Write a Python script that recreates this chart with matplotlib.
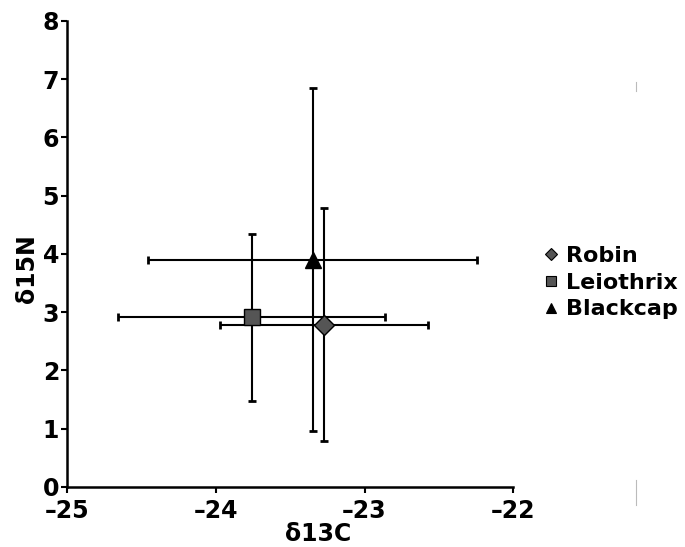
import matplotlib.pyplot as plt
from matplotlib.lines import Line2D

# 数据
species = ["Robin", "Leiothrix", "Blackcap"]
d13c = [-23.27, -23.76, -23.35]
d13c_err = [0.70, 0.90, 1.11]
d15n = [2.78, 2.91, 3.90]
d15n_err = [2.00, 1.43, 2.95]

x_ticks = [-25, -24, -23, -22]
x_ticklabels = ["–25", "–24", "–23", "–22"]
y_ticks = [0, 1, 2, 3, 4, 5, 6, 7, 8]

markers = ["D", "s", "^"]
face = ["#555555", "#555555", "#000000"]
msize = [10, 11, 12]

plt.rcParams['font.family'] = ['DejaVu Sans']
plt.rcParams['font.weight'] = 'bold'

fig = plt.figure(figsize=(6.85, 5.47), dpi=100)
ax = fig.add_axes([0.0985, 0.110, 0.6505, 0.852])

handles = []
for i, name in enumerate(species):
    ax.errorbar(d13c[i], d15n[i], xerr=d13c_err[i], yerr=d15n_err[i],
                fmt="none", ecolor="black", elinewidth=1.5, capsize=3,
                capthick=2, zorder=2, clip_on=False)
for i, name in enumerate(species):
    ax.plot(d13c[i], d15n[i], marker=markers[i], ms=msize[i], mfc=face[i],
            mec="black", mew=1.0, ls="none", zorder=3, clip_on=False)
    handles.append(Line2D([], [], marker=markers[i], ms=msize[i] * 0.6,
                          mfc=face[i], mec="black", mew=0.8, ls="none",
                          label=name))

ax.set_xlim(-25, -22)
ax.set_ylim(0, 8)
ax.set_xticks(x_ticks)
ax.set_xticklabels(x_ticklabels)
ax.set_yticks(y_ticks)
for s in ["top", "right"]:
    ax.spines[s].set_visible(False)
for s in ["left", "bottom"]:
    ax.spines[s].set_linewidth(1.8)
ax.tick_params(direction="out", length=4, width=1.5, labelsize=17)
ax.tick_params(axis="x", pad=5)
ax.tick_params(axis="y", pad=2)
for lab in ax.get_xticklabels() + ax.get_yticklabels():
    lab.set_fontweight("bold")

ax.set_xlabel("δ13C", fontsize=17, fontweight="bold")
ax.xaxis.set_label_coords(0.562, -0.075)
ax.set_ylabel("δ15N", fontsize=17, fontweight="bold")
ax.yaxis.set_label_coords(-0.064, 0.469)

leg = fig.legend(handles=handles, loc="center left", bbox_to_anchor=(0.778, 0.483),
                 frameon=False, handlelength=0.6, handletextpad=0.4,
                 labelspacing=0.3, prop={"size": 16, "weight": "bold"},
                 borderpad=0)

# 右侧两条浅灰色小竖线
fig.add_artist(Line2D([636 / 685, 636 / 685], [1 - 82 / 547, 1 - 91 / 547],
                      color="#bbbbbb", lw=0.8))
fig.add_artist(Line2D([636 / 685, 636 / 685], [1 - 480 / 547, 1 - 505 / 547],
                      color="#bbbbbb", lw=0.8))

fig.savefig("out.png", dpi=100)
